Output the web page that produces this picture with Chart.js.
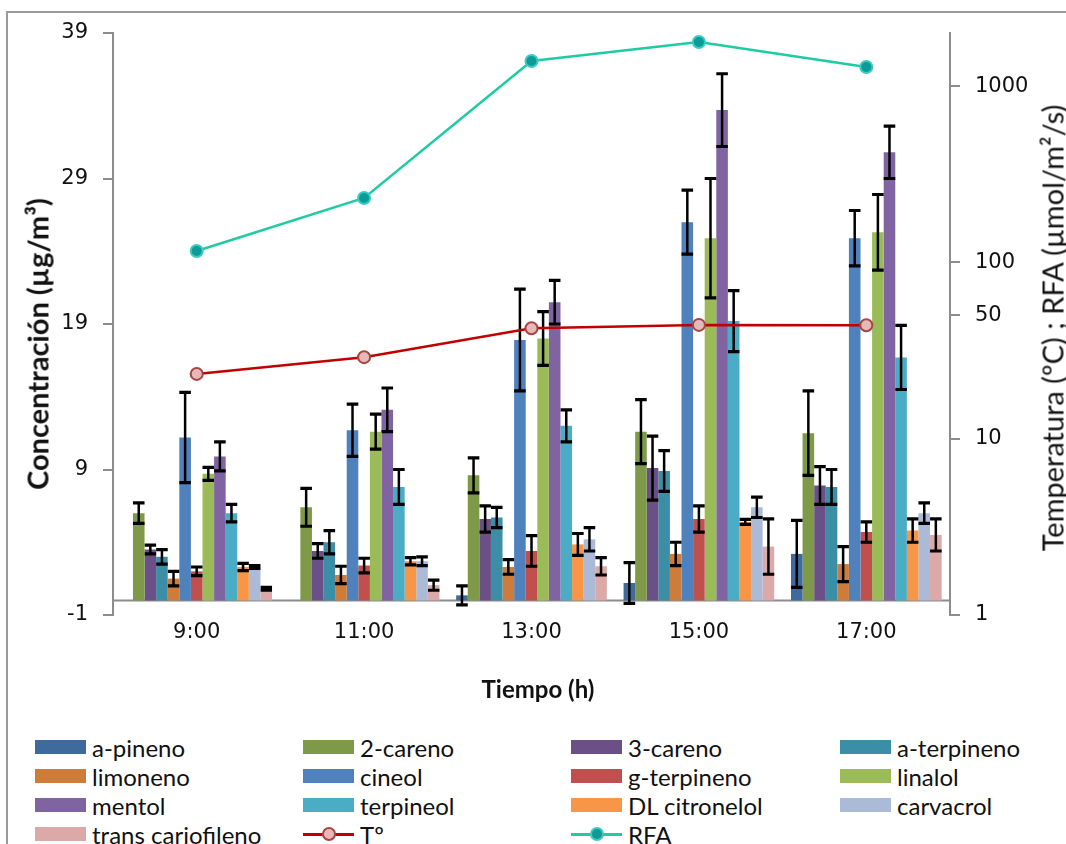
<!DOCTYPE html>
<html>
<head>
<meta charset="utf-8">
<script src="https://cdn.jsdelivr.net/npm/chart.js@4"></script>
<style>
  html, body { margin: 0; padding: 0; background: #fff; }
  #wrap { position: relative; width: 1066px; height: 844px; overflow: hidden; }
  #frame { position: absolute; left: 6px; top: 11px; width: 1100px; height: 900px;
           border-left: 2px solid #9a9a9a; border-top: 2px solid #9a9a9a; }
  canvas { position: absolute; left: 0; top: 0; }
  .ttl { position: absolute; font-family: Lato, "Open Sans", sans-serif; color: #111; white-space: nowrap; }
  .rot { transform: translate(-50%, -50%) rotate(-90deg); }
  #legend { position: absolute; left: 0; top: 0; font-family: Lato, "Open Sans", sans-serif; font-size: 24px; color: #111; }
  .item { position: absolute; height: 28px; display: flex; align-items: center; white-space: nowrap; }
  .sw { width: 51px; height: 14px; margin-right: 6px; position: relative; }
  .ln { position: absolute; left: 0; right: 0; top: 6px; height: 2.5px; }
  .dot { position: absolute; left: 19px; top: 0px; width: 10px; height: 10px; border-radius: 50%; border: 2px solid; }
</style>
</head>
<body>
<div id="wrap">
  <div id="frame"></div>
  <canvas id="chart" width="1066" height="720"></canvas>
  <div class="ttl rot" style="left:37px; top:344px; font-size:29px; font-weight:700;">Concentración (µg/m³)</div>
  <div class="ttl rot" style="left:1052px; top:328px; font-size:29px;">Temperatura (ºC) ; RFA (µmol/m²/s)</div>
  <div class="ttl" style="left:538px; top:688px; transform:translate(-50%,-50%); font-size:24px; font-weight:700;">Tiempo (h)</div>
  <div id="legend"></div>
</div>
<script>
// horas de muestreo
const horas = ['9:00', '11:00', '13:00', '15:00', '17:00'];

// concentraciones (µg/m3) y desviaciones
const aPineno = [0, 0, 0.35, 1.2, 3.2];
const aPinenoErr = [0, 0, 0.65, 1.4, 2.3];
const careno2 = [6.0, 6.4, 8.6, 11.6, 11.5];
const careno2Err = [0.7, 1.3, 1.2, 2.2, 2.9];
const careno3 = [3.5, 3.4, 5.6, 9.1, 7.9];
const careno3Err = [0.3, 0.5, 0.9, 2.2, 1.3];
const aTerpineno = [3.0, 4.0, 5.7, 8.9, 7.8];
const aTerpinenoErr = [0.5, 0.8, 0.7, 1.4, 1.2];
const limoneno = [1.5, 1.75, 2.3, 3.2, 2.5];
const limonenoErr = [0.5, 0.6, 0.5, 0.8, 1.2];
const cineol = [11.2, 11.7, 17.9, 26.0, 24.9];
const cineolErr = [3.1, 1.8, 3.5, 2.2, 1.9];
const gTerpineno = [2.0, 2.4, 3.4, 5.6, 4.7];
const gTerpinenoErr = [0.3, 0.5, 1.05, 0.9, 0.7];
const linalol = [8.7, 11.6, 18.0, 24.9, 25.3];
const linalolErr = [0.45, 1.2, 1.85, 4.1, 2.6];
const mentol = [9.9, 13.1, 20.5, 33.7, 30.8];
const mentolErr = [1.0, 1.5, 1.5, 2.5, 1.8];
const terpineol = [6.0, 7.8, 12.0, 19.2, 16.7];
const terpineolErr = [0.6, 1.2, 1.1, 2.1, 2.2];
const citronelol = [2.3, 2.7, 3.85, 5.4, 4.8];
const citronelolErr = [0.25, 0.25, 0.75, 0.17, 0.8];
const carvacrol = [2.3, 2.7, 4.2, 6.4, 6.0];
const carvacrolErr = [0.1, 0.3, 0.8, 0.7, 0.7];
const cariofileno = [0.8, 1.05, 2.35, 3.7, 4.5];
const cariofilenoErr = [0.1, 0.35, 0.6, 1.9, 1.1];

// temperatura y radiacion (eje log)
const temperatura = [23.3, 29.0, 42.3, 44.2, 44.0];
const rfa = [116, 232, 1388, 1778, 1283];

// ticks
const ticksIzq = [-1, 9, 19, 29, 39];
const ticksDer = [1, 10, 50, 100, 1000];

const barras = [
  ['a-pineno', aPineno, aPinenoErr, '#3F6B9C'],
  ['2-careno', careno2, careno2Err, '#7E9A48'],
  ['3-careno', careno3, careno3Err, '#6A5087'],
  ['a-terpineno', aTerpineno, aTerpinenoErr, '#3B8EA5'],
  ['limoneno', limoneno, limonenoErr, '#CD7C39'],
  ['cineol', cineol, cineolErr, '#4F81BD'],
  ['g-terpineno', gTerpineno, gTerpinenoErr, '#C0504D'],
  ['linalol', linalol, linalolErr, '#9BBB59'],
  ['mentol', mentol, mentolErr, '#8064A2'],
  ['terpineol', terpineol, terpineolErr, '#4BACC6'],
  ['DL citronelol', citronelol, citronelolErr, '#F79646'],
  ['carvacrol', carvacrol, carvacrolErr, '#AABAD7'],
  ['trans cariofileno', cariofileno, cariofilenoErr, '#DAA9A8']
];

const datasets = barras.map(b => ({
  type: 'bar', label: b[0], data: b[1], errors: b[2],
  backgroundColor: b[3], yAxisID: 'y', order: 2,
  categoryPercentage: 0.9, barPercentage: 1.0
}));
datasets.push({
  type: 'line', label: 'Tº', data: temperatura, yAxisID: 'y2', order: 1,
  borderColor: '#C00000', borderWidth: 2.5, pointRadius: 6,
  pointBackgroundColor: '#E6B9B8', pointBorderColor: '#A84444', pointBorderWidth: 2
});
datasets.push({
  type: 'line', label: 'RFA', data: rfa, yAxisID: 'y2', order: 1,
  borderColor: '#1FCBA2', borderWidth: 2.5, pointRadius: 6,
  pointBackgroundColor: '#0C9B96', pointBorderColor: '#3CCAC2', pointBorderWidth: 2
});

const errorBars = {
  id: 'errorBars',
  afterDatasetDraw(chart, args) {
    const ds = chart.data.datasets[args.index];
    if (!ds.errors) return;
    const ys = chart.scales.y, ctx = chart.ctx;
    ctx.save();
    ctx.strokeStyle = '#000';
    args.meta.data.forEach((bar, i) => {
      const e = ds.errors[i];
      if (!e) return;
      const v = ds.data[i];
      const t = ys.getPixelForValue(v + e), b = ys.getPixelForValue(v - e);
      const h = bar.width / 2;
      ctx.lineWidth = 2.5;
      ctx.beginPath(); ctx.moveTo(bar.x, t); ctx.lineTo(bar.x, b); ctx.stroke();
      ctx.lineWidth = 3.2;
      ctx.beginPath();
      ctx.moveTo(bar.x - h, t); ctx.lineTo(bar.x + h, t);
      ctx.moveTo(bar.x - h, b); ctx.lineTo(bar.x + h, b);
      ctx.stroke();
    });
    ctx.restore();
  }
};

const baseLine = {
  id: 'baseLine',
  beforeDatasetsDraw(chart) {
    const a = chart.chartArea, y0 = chart.scales.y.getPixelForValue(0), ctx = chart.ctx;
    ctx.save();
    ctx.strokeStyle = '#8c8c8c'; ctx.lineWidth = 2;
    ctx.beginPath(); ctx.moveTo(a.left, y0); ctx.lineTo(a.right, y0); ctx.stroke();
    ctx.restore();
  }
};

const tickFont = { family: 'DejaVu Sans', size: 21 };

new Chart(document.getElementById('chart'), {
  data: { labels: horas, datasets: datasets },
  options: {
    responsive: false, animation: false, devicePixelRatio: 1,
    layout: { padding: { top: 33, left: 0, right: 0, bottom: 0 } },
    plugins: { legend: { display: false }, tooltip: { enabled: false } },
    scales: {
      x: {
        grid: { display: false, drawTicks: false }, border: { display: false },
        ticks: { font: tickFont, color: '#111', padding: 5 },
        afterFit: s => { s.height = 105; }
      },
      y: {
        position: 'left', min: -1, max: 39,
        grid: { drawOnChartArea: false, tickLength: 10, color: '#8c8c8c', lineWidth: 2 },
        border: { color: '#8c8c8c', width: 2 },
        ticks: { font: tickFont, color: '#111', padding: 15 },
        afterBuildTicks: s => { s.ticks = ticksIzq.map(v => ({ value: v })); },
        afterFit: s => { s.width = 113; }
      },
      y2: {
        type: 'logarithmic', position: 'right', min: 1, max: 2000,
        grid: { drawOnChartArea: false, tickLength: 10, color: '#8c8c8c', lineWidth: 2 },
        border: { color: '#8c8c8c', width: 2 },
        ticks: { font: tickFont, color: '#111', padding: 15, callback: v => String(v) },
        afterBuildTicks: s => { s.ticks = ticksDer.map(v => ({ value: v })); },
        afterFit: s => { s.width = 116; }
      }
    }
  },
  plugins: [baseLine, errorBars]
});

// leyenda en 4 columnas
const colX = [35, 303, 571, 840];
const rowY = [747, 776, 805, 834];
const legItems = barras.map(b => ({ name: b[0], color: b[3] }));
legItems.push({ name: 'Tº', line: '#C00000', fill: '#E6B9B8', edge: '#A84444' });
legItems.push({ name: 'RFA', line: '#1FCBA2', fill: '#0C9B96', edge: '#3CCAC2' });
const leg = document.getElementById('legend');
legItems.forEach((it, k) => {
  const d = document.createElement('div');
  d.className = 'item';
  d.style.left = colX[k % 4] + 'px';
  d.style.top = (rowY[Math.floor(k / 4)] - 14) + 'px';
  const sw = document.createElement('div');
  sw.className = 'sw';
  if (it.line) {
    sw.innerHTML = '<div class="ln" style="background:' + it.line + '"></div>' +
      '<div class="dot" style="background:' + it.fill + ';border-color:' + it.edge + '"></div>';
  } else {
    sw.style.background = it.color;
  }
  const tx = document.createElement('span');
  tx.textContent = it.name;
  d.appendChild(sw); d.appendChild(tx);
  leg.appendChild(d);
});
</script>
</body>
</html>
